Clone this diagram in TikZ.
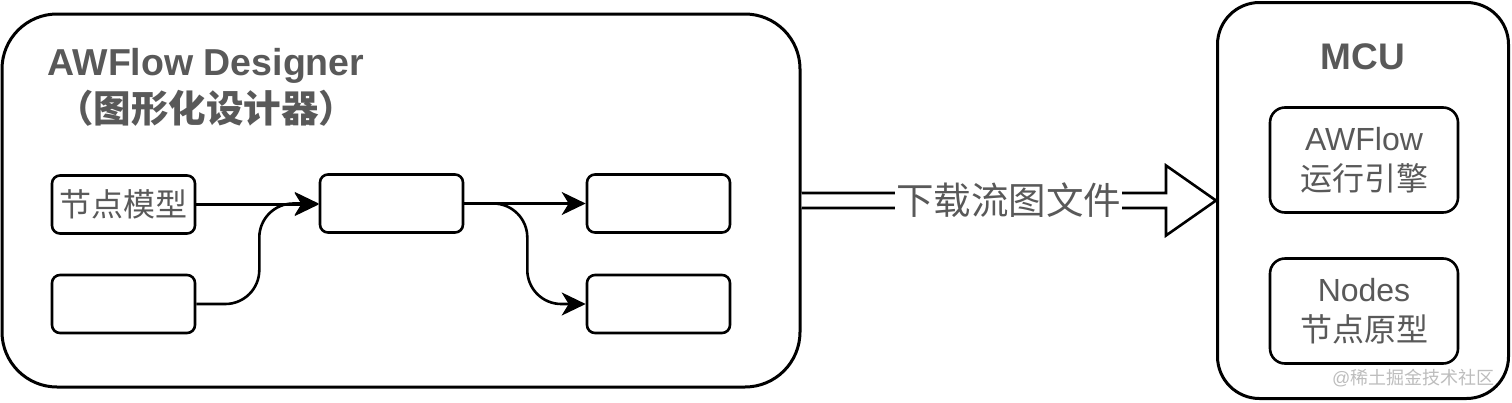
\documentclass[tikz,border=0pt]{standalone}
\usepackage{fontspec}
\setmainfont{Liberation Sans}
\newfontfamily\cjk{Noto Sans CJK SC}
\usetikzlibrary{arrows.meta,calc}
\definecolor{txt}{HTML}{595959}
\definecolor{wm}{HTML}{BDBDBD}
\begin{document}
\begin{tikzpicture}[x=1pt,y=-1pt,
  bigbox/.style={draw=black, line width=3pt, fill=white, inner sep=0pt},
  smallbox/.style={draw=black, line width=2.6pt, rounded corners=8pt, minimum width=143pt, minimum height=58pt, inner sep=0pt, text=txt, font=\cjk\fontsize{32}{40}\selectfont},
  mcubox/.style={draw=black, line width=2.6pt, rounded corners=15pt, minimum width=188pt, minimum height=105pt, inner sep=0pt, align=center, text=txt, font=\fontsize{32}{40}\selectfont},
  conn/.style={line width=2.6pt, -{Stealth[length=24pt,width=23pt,inset=7pt]}, rounded corners=34pt},
  bigarrow/.style={draw=black, line width=2.6pt, fill=white, line join=miter},
  lbl/.style={fill=white, inner xsep=1pt, inner ysep=0pt, text=txt, font=\cjk\fontsize{37.5}{37.5}\selectfont}
]
\useasboundingbox (0,0) rectangle (1512,402);
% containers
\node[bigbox, rounded corners=55pt, minimum width=798pt, minimum height=373pt] (L) at (401,200.5) {};
\node[bigbox, rounded corners=42pt, minimum width=291pt, minimum height=396pt] (M) at (1363,200.5) {};
% titles
\node[text=txt, font=\bfseries\fontsize{37.5}{47}\selectfont, align=center] (T) at (206,87) {AWFlow Designer\\{\cjk\bfseries （图形化设计器）}};
\node[text=txt, font=\bfseries\fontsize{37}{43}\selectfont] (MT) at (1363,57) {MCU};
% designer nodes
\node[smallbox] (A) at (123.5,204.5) {节点模型};
\node[smallbox] (B) at (123.5,304) {};
\node[smallbox] (C) at (391.5,203.5) {};
\node[smallbox] (D) at (658.5,203.5) {};
\node[smallbox] (E) at (658.5,304) {};
% MCU nodes
\node[mcubox] (R1) at (1364,160) {AWFlow\\{\cjk 运行引擎}};
\node[mcubox] (R2) at (1364,311) {Nodes\\{\cjk 节点原型}};
% connectors
\draw[conn] (A.east) -- (A.east -| C.west);
\draw[conn] (B.east) -- ++(63,0) |- (C.west);
\draw[conn] (C.east) -- (D.west);
\draw[conn] (C.east) -- ++(63,0) |- (E.west);
% big hollow arrow
\draw[bigarrow] ($(L.east)+(0,-7.5)$) -- ($(M.west)+(-50,-7.5)$) -- ($(M.west)+(-50,-35)$) -- (M.west) -- ($(M.west)+(-50,35)$) -- ($(M.west)+(-50,7.5)$) -- ($(L.east)+(0,7.5)$);
\node[lbl] (DL) at ($(L.east)!0.5!(M.west)$) {下载流图文件};
% watermark
\node[text=wm, font=\fontsize{18}{18}\selectfont, anchor=east] (W) at (1498,378) {@{\cjk 稀土掘金技术社区}};
\end{tikzpicture}
\end{document}
